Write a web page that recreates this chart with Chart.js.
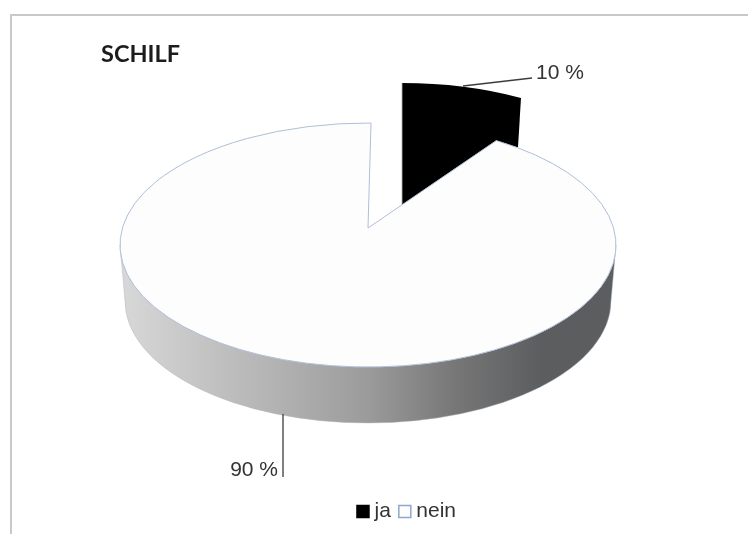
<!DOCTYPE html>
<html><head><meta charset="utf-8">
<style>html,body{margin:0;padding:0;background:#fff}canvas{display:block}</style>
<script src="https://cdn.jsdelivr.net/npm/chart.js@4"></script>
</head><body><canvas id="c" width="748" height="534"></canvas>
<script>
const categories = ['ja', 'nein'];
const values = [10, 90];
const sliceFill = ['#000000', '#fdfdfe'];
const sliceEdge = ['#000000', '#8fa8cf'];
const chartTitle = 'SCHILF';
const faceEdge = '#afbfd8';

// projection of the tilted pie (style only)
const ellipse = { cx: 368, cy: 245, rx: 248, ry: 122 };
const base = { cx: 368, cy: 301, rx: 243, ry: 122 };
const apexes = [{ x: 402, y: 205 }, { x: 368, y: 228 }];
const sliceCentres = [{ x: 402, y: 205 }, { x: 368, y: 245 }];
const foreshorten = [7.7, 5.1];
const jaDepth = 49;
const labelStyle = [
  { line: [[463, 86], [532, 78]], x: 536, y: 73, align: 'left' },
  { line: [[283, 414], [283, 477]], x: 278, y: 470, align: 'right' }
];

const D = Math.PI / 180;
function param(chartAngle, i) {
  const t = chartAngle / D + 90;
  return (t - foreshorten[i] * Math.sin(2 * t * D) - 90) * D;
}
const pie3d = {
  id: 'pie3d',
  beforeDraw(chart) {
    const c = chart.ctx;
    c.save();
    c.fillStyle = '#fff';
    c.fillRect(0, 0, chart.width, chart.height);
    c.strokeStyle = '#c9c9c9';
    c.lineWidth = 2;
    c.beginPath();
    c.moveTo(chart.width, 15);
    c.lineTo(11, 15);
    c.lineTo(11, chart.height);
    c.stroke();
    c.restore();
  },
  beforeDatasetsDraw(chart) {
    const c = chart.ctx;
    const arcs = chart.getDatasetMeta(0).data;
    const angle = i => [param(arcs[i].startAngle, i), param(arcs[i].endAngle, i)];
    c.save();

    // exploded slice: wall first, then its face
    const [a0, a1] = angle(0);
    const j = sliceCentres[0];
    c.fillStyle = sliceFill[0];
    c.beginPath();
    c.moveTo(j.x, j.y);
    c.ellipse(j.x, j.y, ellipse.rx, ellipse.ry, 0, a0, a1);
    c.lineTo(j.x + ellipse.rx * Math.cos(a1) - 3, j.y + ellipse.ry * Math.sin(a1) + jaDepth);
    c.lineTo(j.x, j.y);
    c.closePath();
    c.fill();
    c.strokeStyle = '#b5b5b5';
    c.lineWidth = 0.8;
    c.beginPath();
    c.moveTo(j.x, j.y);
    c.lineTo(j.x, j.y - ellipse.ry);
    c.stroke();

    // outer wall of the large slice
    const g = c.createLinearGradient(120, 0, 616, 0);
    g.addColorStop(0, '#d8d8d8');
    g.addColorStop(0.3, '#b4b4b4');
    g.addColorStop(0.5, '#9b9b9b');
    g.addColorStop(0.68, '#767676');
    g.addColorStop(0.85, '#5b5d5f');
    g.addColorStop(1, '#5b5d5f');
    c.fillStyle = g;
    c.beginPath();
    c.moveTo(ellipse.cx + ellipse.rx, ellipse.cy);
    c.lineTo(base.cx + base.rx, base.cy);
    c.ellipse(base.cx, base.cy, base.rx, base.ry, 0, 0, Math.PI);
    c.lineTo(ellipse.cx - ellipse.rx, ellipse.cy);
    c.ellipse(ellipse.cx, ellipse.cy, ellipse.rx, ellipse.ry, 0, Math.PI, 0, true);
    c.closePath();
    c.fill();
    c.strokeStyle = 'rgba(170,182,198,0.45)';
    c.lineWidth = 1;
    c.stroke();

    // face of the large slice
    const [b0, b1] = angle(1);
    c.fillStyle = sliceFill[1];
    c.strokeStyle = faceEdge;
    c.lineWidth = 1;
    c.beginPath();
    c.moveTo(apexes[1].x, apexes[1].y);
    c.lineTo(ellipse.cx + ellipse.rx * Math.cos(b0), ellipse.cy + ellipse.ry * Math.sin(b0));
    c.ellipse(ellipse.cx, ellipse.cy, ellipse.rx, ellipse.ry, 0, b0, b1 + 0.7 * D);
    c.closePath();
    c.fill();
    c.stroke();

    // value labels with leader lines
    c.font = '21px "Liberation Sans"';
    c.textBaseline = 'middle';
    values.forEach((v, i) => {
      const s = labelStyle[i];
      c.strokeStyle = '#3c3c3c';
      c.lineWidth = 1.3;
      c.beginPath();
      c.moveTo(s.line[0][0], s.line[0][1]);
      c.lineTo(s.line[1][0], s.line[1][1]);
      c.stroke();
      c.fillStyle = '#333333';
      c.textAlign = s.align;
      c.fillText(v + ' %', s.x, s.y);
    });
    c.restore();
    return false;
  }
};

new Chart(document.getElementById('c'), {
  type: 'pie',
  data: {
    labels: categories,
    datasets: [{ data: values, backgroundColor: sliceFill, borderColor: sliceEdge, borderWidth: 1.5 }]
  },
  options: {
    responsive: false,
    animation: false,
    layout: { padding: { left: 101, right: 31, top: 0, bottom: 2 } },
    plugins: {
      tooltip: { enabled: false },
      title: {
        display: true, text: chartTitle, align: 'start', color: '#1c1c1c',
        font: { family: 'Lato', weight: 'bold', size: 23.5 },
        padding: { top: 40, bottom: 0 }
      },
      legend: {
        position: 'bottom',
        labels: {
          usePointStyle: true, pointStyle: 'rect', boxWidth: 2, boxHeight: 12,
          color: '#333333', padding: 13,
          font: { family: 'Liberation Sans', size: 21 }
        }
      }
    }
  },
  plugins: [pie3d]
});
</script></body></html>
